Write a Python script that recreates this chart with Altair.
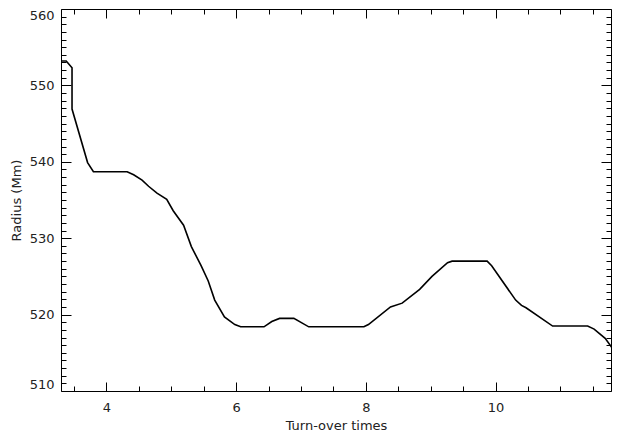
import altair as alt
import pandas as pd

# Turn-over times (x) and radius in Mm (y)
turnover = [3.30, 3.38, 3.47, 3.47, 3.71, 3.80, 4.32, 4.42, 4.55, 4.65, 4.78, 4.93,
            5.03, 5.19, 5.31, 5.46, 5.57, 5.67, 5.82, 5.98, 6.07, 6.43, 6.55, 6.67,
            6.89, 7.12, 7.97, 8.04, 8.38, 8.56, 8.83, 9.02, 9.26, 9.33, 9.87, 9.94,
            10.31, 10.40, 10.47, 10.88, 11.42, 11.52, 11.69, 11.80]
radius = [553.2, 553.2, 552.3, 546.9, 539.9, 538.7, 538.7, 538.3, 537.6, 536.8, 535.9, 535.1,
          533.6, 531.7, 528.9, 526.4, 524.4, 521.9, 519.7, 518.7, 518.4, 518.4, 519.1, 519.5,
          519.5, 518.4, 518.4, 518.7, 521.0, 521.5, 523.3, 525.0, 526.8, 527.0, 527.0, 526.4,
          521.9, 521.2, 520.9, 518.5, 518.5, 518.1, 516.9, 515.6]

x_major = [4, 6, 8, 10]
x_minor = [3.5, 4.5, 5.0, 5.5, 6.5, 7.0, 7.5, 8.5, 9.0, 9.5, 10.5, 11.0, 11.5]
y_major = [510, 520, 530, 540, 550, 560]
y_minor = [v for v in range(511, 560) if v % 10 != 0]
x_domain = [3.30, 11.78]
y_domain = [510, 560]

df = pd.DataFrame({"t": turnover, "r": radius, "i": list(range(len(turnover)))})

xs = alt.Scale(domain=x_domain, nice=False, zero=False)
ys = alt.Scale(domain=y_domain, nice=False, zero=False)

XMAJ_LEN, XMIN_LEN = 9, 5
YMAJ_LEN, YMIN_LEN = 10, 5


def ghost(xaxis, yaxis):
    return alt.Chart(df).mark_line(opacity=0).encode(
        x=alt.X("t:Q", scale=xs, axis=xaxis),
        y=alt.Y("r:Q", scale=ys, axis=yaxis),
        order="i:Q",
    )


def tick_axis(orient, values, length):
    return alt.Axis(orient=orient, values=values, title=None, labels=False,
                    tickSize=length, offset=-length)


line = alt.Chart(df).mark_line(color="black", strokeWidth=1.6, clip=True).encode(
    x=alt.X("t:Q", scale=xs, axis=alt.Axis(
        orient="bottom", values=x_major, title="Turn-over times", format="d",
        labelOverlap=False, labelFlush=False,
        tickSize=XMAJ_LEN, offset=-XMAJ_LEN, labelPadding=10,
        titleBaseline="alphabetic", titleY=47)),
    y=alt.Y("r:Q", scale=ys, axis=alt.Axis(
        orient="left", values=y_major, title="Radius (Mm)", format="d",
        labelOverlap=False, labelFlush=True,
        tickSize=YMAJ_LEN, offset=-YMAJ_LEN, labelPadding=7, titlePadding=6)),
    order="i:Q",
)

layers = [
    line,
    ghost(tick_axis("top", x_major, XMAJ_LEN), tick_axis("right", y_major, YMAJ_LEN)),
    ghost(tick_axis("bottom", x_minor, XMIN_LEN), tick_axis("left", y_minor, YMIN_LEN)),
    ghost(tick_axis("top", x_minor, XMIN_LEN), tick_axis("right", y_minor, YMIN_LEN)),
]

chart = alt.layer(*layers).resolve_axis(x="independent", y="independent").properties(
    width=550, height=382,
    autosize=alt.AutoSizeParams(type="none"),
    padding={"left": 53, "top": 1, "right": 1, "bottom": 41},
).configure_view(stroke="black", strokeWidth=1).configure_axis(
    domain=False, grid=False, tickColor="black", tickWidth=1,
    labelFont="DejaVu Sans", labelFontSize=13, labelColor="#222",
    titleFont="DejaVu Sans", titleFontSize=13, titleFontWeight="normal", titleColor="#222",
)

chart.save("out.html", embed_options={"renderer": "svg", "actions": False})
